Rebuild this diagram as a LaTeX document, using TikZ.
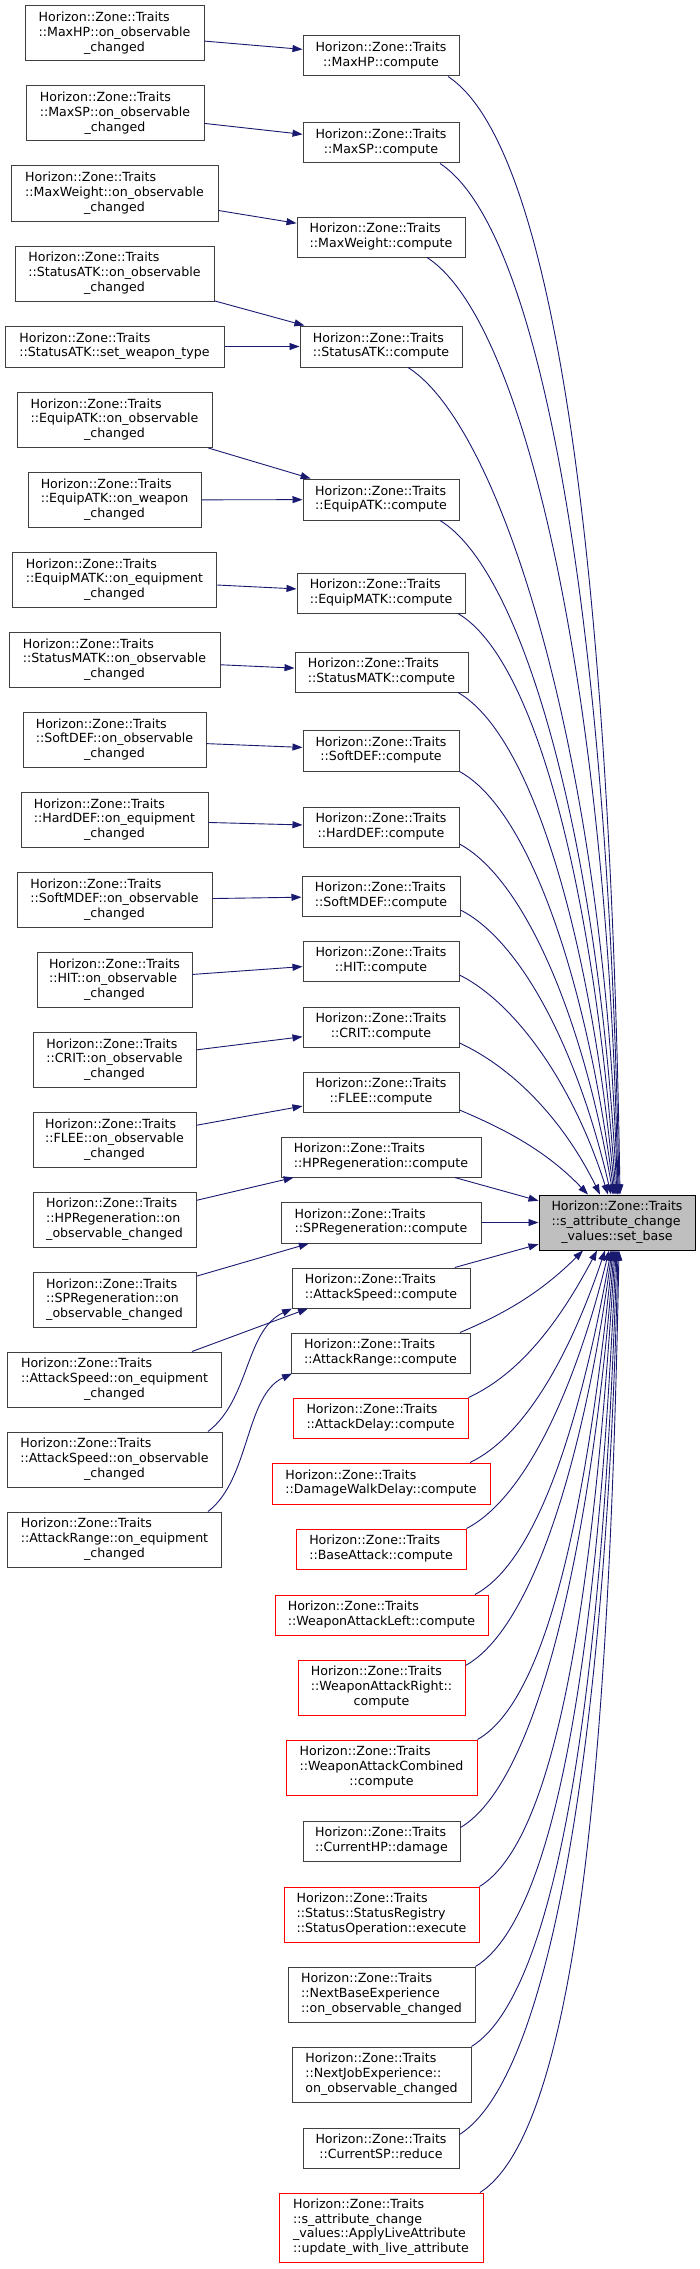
\documentclass[tikz,border=0pt]{standalone}
\usepackage{fontspec}
\setmainfont{DejaVu Sans}
\usetikzlibrary{arrows.meta}
\definecolor{edgeblue}{HTML}{191970}
\definecolor{nodegray}{HTML}{404040}
\definecolor{mainfill}{HTML}{BFBFBF}
\definecolor{nodered}{HTML}{FF0000}
\newcommand\dgfont{\fontsize{12.6pt}{14.7pt}\selectfont}
\newcommand\twol[2]{\begin{tabular}{@{}l@{}}#1\\\multicolumn{1}{@{}c@{}}{#2}\end{tabular}}
\newcommand\threel[3]{\begin{tabular}{@{}l@{}}#1\\#2\\\multicolumn{1}{@{}c@{}}{#3}\end{tabular}}
\newcommand\fourl[4]{\begin{tabular}{@{}l@{}}#1\\#2\\#3\\\multicolumn{1}{@{}c@{}}{#4}\end{tabular}}
\newcommand\HZT{Horizon::Zone::Traits}
\begin{document}
\begin{tikzpicture}[x=1pt,y=-1pt,
  box/.style={draw=nodegray, fill=white, line width=1pt, inner sep=0pt, font=\dgfont},
  redbox/.style={box, draw=nodered},
  mainbox/.style={box, draw=black, fill=mainfill},
  e/.style={draw=edgeblue, line width=0.9pt, -{Triangle[length=10pt,width=7pt]}}]
\useasboundingbox (0,0) rectangle (700,2269);
% left column
\node[box, minimum width=179pt, minimum height=55pt] (l1) at (114.5,33.5) {\threel{\HZT}{::MaxHP::on\_observable}{\_changed}};
\node[box, minimum width=178pt, minimum height=55pt] (l2) at (115,113.5) {\threel{\HZT}{::MaxSP::on\_observable}{\_changed}};
\node[box, minimum width=207pt, minimum height=55pt] (l3) at (114.5,193.5) {\threel{\HZT}{::MaxWeight::on\_observable}{\_changed}};
\node[box, minimum width=199pt, minimum height=55pt] (l4) at (114.5,273.5) {\threel{\HZT}{::StatusATK::on\_observable}{\_changed}};
\node[box, minimum width=219pt, minimum height=41pt] (l5) at (114.5,346.5) {\twol{\HZT}{::StatusATK::set\_weapon\_type}};
\node[box, minimum width=195pt, minimum height=55pt] (l6) at (114.5,420) {\threel{\HZT}{::EquipATK::on\_observable}{\_changed}};
\node[box, minimum width=173pt, minimum height=55pt] (l7) at (114.5,500) {\threel{\HZT}{::EquipATK::on\_weapon}{\_changed}};
\node[box, minimum width=204.5pt, minimum height=55pt] (l8) at (114.5,580) {\threel{\HZT}{::EquipMATK::on\_equipment}{\_changed}};
\node[box, minimum width=211pt, minimum height=55pt] (l9) at (114.5,660) {\threel{\HZT}{::StatusMATK::on\_observable}{\_changed}};
\node[box, minimum width=183pt, minimum height=55pt] (l10) at (114.5,740) {\threel{\HZT}{::SoftDEF::on\_observable}{\_changed}};
\node[box, minimum width=187pt, minimum height=55pt] (l11) at (114.5,820) {\threel{\HZT}{::HardDEF::on\_equipment}{\_changed}};
\node[box, minimum width=195pt, minimum height=55pt] (l12) at (114.5,900) {\threel{\HZT}{::SoftMDEF::on\_observable}{\_changed}};
\node[box, minimum width=155pt, minimum height=55pt] (l13) at (114.5,980) {\threel{\HZT}{::HIT::on\_observable}{\_changed}};
\node[box, minimum width=163pt, minimum height=55pt] (l14) at (114.5,1060) {\threel{\HZT}{::CRIT::on\_observable}{\_changed}};
\node[box, minimum width=163pt, minimum height=55pt] (l15) at (114.5,1140) {\threel{\HZT}{::FLEE::on\_observable}{\_changed}};
\node[box, minimum width=163pt, minimum height=55pt] (l16) at (114.5,1219.5) {\threel{\HZT}{::HPRegeneration::on}{\_observable\_changed}};
\node[box, minimum width=163pt, minimum height=55pt] (l17) at (114.5,1300) {\threel{\HZT}{::SPRegeneration::on}{\_observable\_changed}};
\node[box, minimum width=214pt, minimum height=55pt] (l18) at (114.5,1379.5) {\threel{\HZT}{::AttackSpeed::on\_equipment}{\_changed}};
\node[box, minimum width=215pt, minimum height=55pt] (l19) at (114.5,1459.5) {\threel{\HZT}{::AttackSpeed::on\_observable}{\_changed}};
\node[box, minimum width=214pt, minimum height=55pt] (l20) at (114.5,1539.5) {\threel{\HZT}{::AttackRange::on\_equipment}{\_changed}};
% middle column
\node[box, minimum width=156pt, minimum height=40pt] (m1) at (381,56) {\twol{\HZT}{::MaxHP::compute}};
\node[box, minimum width=156pt, minimum height=40pt] (m2) at (381,143) {\twol{\HZT}{::MaxSP::compute}};
\node[box, minimum width=168pt, minimum height=40pt] (m3) at (381,237) {\twol{\HZT}{::MaxWeight::compute}};
\node[box, minimum width=162pt, minimum height=41pt] (m4) at (381,346.5) {\twol{\HZT}{::StatusATK::compute}};
\node[box, minimum width=156pt, minimum height=41pt] (m5) at (381,499.5) {\twol{\HZT}{::EquipATK::compute}};
\node[box, minimum width=168pt, minimum height=40pt] (m6) at (381,593) {\twol{\HZT}{::EquipMATK::compute}};
\node[box, minimum width=173pt, minimum height=40pt] (m7) at (381.5,672) {\twol{\HZT}{::StatusMATK::compute}};
\node[box, minimum width=156pt, minimum height=41pt] (m8) at (381,750.5) {\twol{\HZT}{::SoftDEF::compute}};
\node[box, minimum width=156pt, minimum height=40pt] (m9) at (381,827) {\twol{\HZT}{::HardDEF::compute}};
\node[box, minimum width=158pt, minimum height=40pt] (m10) at (381,896) {\twol{\HZT}{::SoftMDEF::compute}};
\node[box, minimum width=156pt, minimum height=40pt] (m11) at (381,961) {\twol{\HZT}{::HIT::compute}};
\node[box, minimum width=156pt, minimum height=40pt] (m12) at (381,1027) {\twol{\HZT}{::CRIT::compute}};
\node[box, minimum width=156pt, minimum height=40pt] (m13) at (381,1092) {\twol{\HZT}{::FLEE::compute}};
\node[box, minimum width=200pt, minimum height=40pt] (m14) at (381,1157) {\twol{\HZT}{::HPRegeneration::compute}};
\node[box, minimum width=200pt, minimum height=41pt] (m15) at (381,1222.5) {\twol{\HZT}{::SPRegeneration::compute}};
\node[box, minimum width=178pt, minimum height=40pt] (m16) at (381,1288) {\twol{\HZT}{::AttackSpeed::compute}};
\node[box, minimum width=179pt, minimum height=40pt] (m17) at (380.5,1353) {\twol{\HZT}{::AttackRange::compute}};
\node[redbox, minimum width=175pt, minimum height=40pt] (m18) at (380.5,1418) {\twol{\HZT}{::AttackDelay::compute}};
\node[redbox, minimum width=218pt, minimum height=41pt] (m19) at (381,1483.5) {\twol{\HZT}{::DamageWalkDelay::compute}};
\node[redbox, minimum width=170pt, minimum height=40pt] (m20) at (381,1549) {\twol{\HZT}{::BaseAttack::compute}};
\node[redbox, minimum width=213pt, minimum height=40pt] (m21) at (381.5,1615) {\twol{\HZT}{::WeaponAttackLeft::compute}};
\node[redbox, minimum width=167pt, minimum height=55pt] (m22) at (381.5,1687.5) {\threel{\HZT}{::WeaponAttackRight::}{compute}};
\node[redbox, minimum width=191pt, minimum height=55pt] (m23) at (381.5,1767.5) {\threel{\HZT}{::WeaponAttackCombined}{::compute}};
\node[box, minimum width=157pt, minimum height=40pt] (m24) at (381.5,1841) {\twol{\HZT}{::CurrentHP::damage}};
\node[redbox, minimum width=195pt, minimum height=55pt] (m25) at (381.5,1914.5) {\threel{\HZT}{::Status::StatusRegistry}{::StatusOperation::execute}};
\node[box, minimum width=187pt, minimum height=55pt] (m26) at (381.5,1994.5) {\threel{\HZT}{::NextBaseExperience}{::on\_observable\_changed}};
\node[box, minimum width=179pt, minimum height=55pt] (m27) at (381.5,2074.5) {\threel{\HZT}{::NextJobExperience::}{on\_observable\_changed}};
\node[box, minimum width=156pt, minimum height=40pt] (m28) at (381,2148) {\twol{\HZT}{::CurrentSP::reduce}};
\node[redbox, minimum width=204pt, minimum height=69pt] (m29) at (381,2227.5) {\fourl{\HZT}{::s\_attribute\_change}{\_values::ApplyLiveAttribute}{::update\_with\_live\_attribute}};
% main node
\node[mainbox, minimum width=156pt, minimum height=55pt] (main) at (617,1222.5) {\threel{\HZT}{::s\_attribute\_change}{\_values::set\_base}};
% left -> middle
\draw[e] (l1) -- (m1);
\draw[e] (l2) -- (m2);
\draw[e] (l3) -- (m3);
\draw[e] (l4) -- (m4);
\draw[e] (l5) -- (m4);
\draw[e] (l6) -- (m5);
\draw[e] (l7) -- (m5);
\draw[e] (l8) -- (m6);
\draw[e] (l9) -- (m7);
\draw[e] (l10) -- (m8);
\draw[e] (l11) -- (m9);
\draw[e] (l12) -- (m10);
\draw[e] (l13) -- (m11);
\draw[e] (l14) -- (m12);
\draw[e] (l15) -- (m13);
\draw[e] (l16) -- (m14);
\draw[e] (l17) -- (m15);
\draw[e] ([xshift=77.5pt]l18.north) -- ([xshift=-73pt]m16.south);
\draw[e] ([xshift=93.5pt]l19.north) .. controls +(42,-32) and +(-47,22) .. ([xshift=-89pt]m16.south);
\draw[e] ([xshift=93.5pt]l20.north) .. controls +(42,-32) and +(-47,22) .. ([xshift=-88.5pt]m17.south);
% middle -> main, straight
\draw[e] (m14) -- (main);
\draw[e] (m15) -- (main);
\draw[e] (m16) -- (main);
% middle -> main, from above
\draw[e] ([xshift=67pt]m1.south) .. controls +(113,74) and +(-9,-582) .. ([xshift=3pt]main.north);
\draw[e] ([xshift=59pt]m2.south) .. controls +(107,70) and +(-9,-537) .. ([xshift=2pt]main.north);
\draw[e] ([xshift=46pt]m3.south) .. controls +(101,65) and +(-9,-488) .. ([xshift=1pt]main.north);
\draw[e] ([xshift=27pt]m4.south) .. controls +(94,59) and +(-12,-431) .. ([xshift=0.5pt]main.north);
\draw[e] ([xshift=59pt]m5.south) .. controls +(84,51) and +(-18,-351) .. (main.north);
\draw[e] ([xshift=77pt]m6.south) .. controls +(78,46) and +(-22,-303) .. ([xshift=-1pt]main.north);
\draw[e] ([xshift=76.5pt]m7.south) .. controls +(73,42) and +(-25,-262) .. ([xshift=-2pt]main.north);
\draw[e] (m8.south east) .. controls +(68,37) and +(-28,-220) .. ([xshift=-3pt]main.north);
\draw[e] ([yshift=-17pt]m9.east) .. controls +(63,34) and +(-31,-183) .. ([xshift=-4pt]main.north);
\draw[e] ([yshift=-14pt]m10.east) .. controls +(59,30) and +(-34,-148) .. ([xshift=-6pt]main.north);
\draw[e] ([yshift=-14pt]m11.east) .. controls +(54,27) and +(-36,-114) .. ([xshift=-9pt]main.north);
\draw[e] ([yshift=-16pt]m12.east) .. controls +(50,23) and +(-39,-79) .. ([xshift=-17pt]main.north);
\draw[e] ([yshift=-18pt]m13.east) .. controls +(45,19) and +(-42,-44) .. ([xshift=-29pt]main.north);
% middle -> main, from below
\draw[e] ([xshift=79.5pt]m17.north) .. controls +(45,-19) and +(-42,42) .. ([xshift=-34pt]main.south);
\draw[e] (m18.north east) .. controls +(50,-23) and +(-39,74) .. ([xshift=-20pt]main.south);
\draw[e] ([xshift=89pt]m19.north) .. controls +(54,-26) and +(-36,107) .. ([xshift=-12pt]main.south);
\draw[e] (m20.north east) .. controls +(58,-30) and +(-34,140) .. ([xshift=-8pt]main.south);
\draw[e] ([xshift=93.5pt]m21.north) .. controls +(62,-33) and +(-31,173) .. ([xshift=-6pt]main.south);
\draw[e] ([yshift=-6pt]m22.north east) .. controls +(67,-37) and +(-28,208) .. ([xshift=-5pt]main.south);
\draw[e] (m23.north east) .. controls +(72,-41) and +(-25,245) .. ([xshift=-4pt]main.south);
\draw[e] ([yshift=-7pt]m24.north east) .. controls +(78,-46) and +(-22,289) .. ([xshift=-3pt]main.south);
\draw[e] (m25.north east) .. controls +(81,-49) and +(-20,319) .. ([xshift=-2pt]main.south);
\draw[e] (m26.north east) .. controls +(87,-53) and +(-16,359) .. ([xshift=-1pt]main.south);
\draw[e] (m27.north east) .. controls +(92,-57) and +(-13,399) .. (main.south);
\draw[e] ([yshift=-7pt]m28.north east) .. controls +(98,-62) and +(-10,443) .. ([xshift=1pt]main.south);
\draw[e] ([xshift=99pt]m29.north) .. controls +(101,-65) and +(-9,472) .. ([xshift=2pt]main.south);
\end{tikzpicture}
\end{document}
